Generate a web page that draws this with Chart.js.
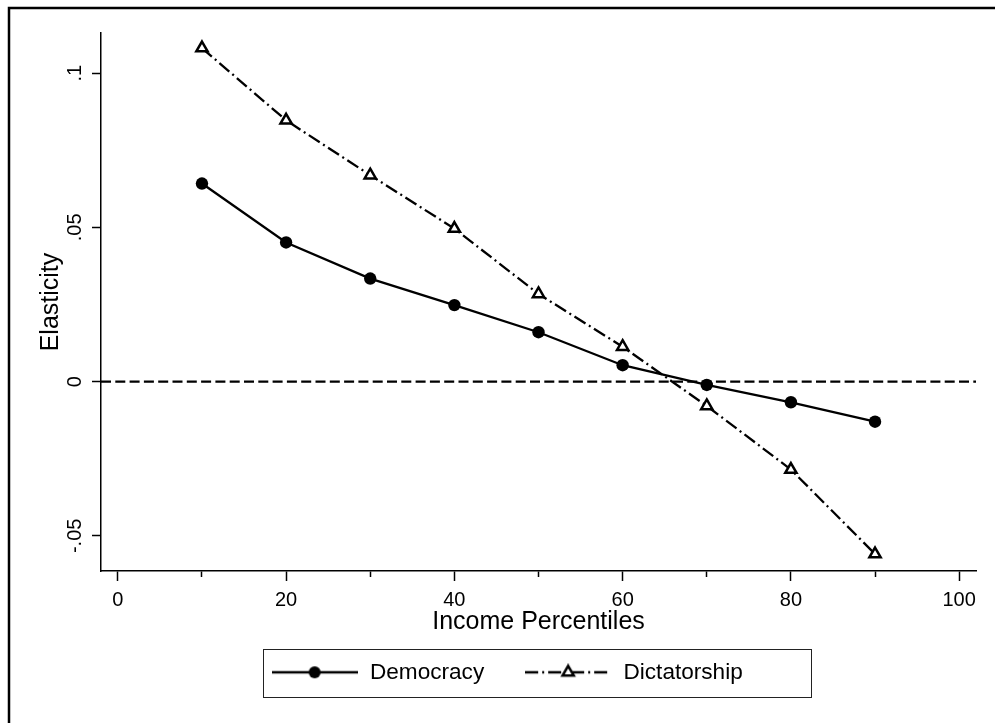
<!DOCTYPE html>
<html>
<head>
<meta charset="utf-8">
<title>Elasticity by income percentile</title>
<script src="https://cdn.jsdelivr.net/npm/chart.js@4.4.1/dist/chart.umd.min.js"></script>
<style>
  html, body { margin: 0; padding: 0; background: #fff; }
  #chart { display: block; }
</style>
</head>
<body>
<canvas id="chart" width="995" height="723"></canvas>
<script>
// data
const percentiles = [10, 20, 30, 40, 50, 60, 70, 80, 90];
const democracy = [0.0642, 0.0451, 0.0334, 0.0248, 0.0160, 0.0053, -0.0011, -0.0067, -0.0130];
const dictatorship = [0.1081, 0.0847, 0.0669, 0.0496, 0.0284, 0.0113, -0.0079, -0.0285, -0.0559];
const seriesNames = ['Democracy', 'Dictatorship'];

// axes
const xRange = [-2, 102];
const yRange = [-0.0614, 0.113];
const xMajorTicks = [0, 20, 40, 60, 80, 100];
const xMinorTicks = [10, 30, 50, 70, 90];
const yTickValues = [-0.05, 0, 0.05, 0.1];
const yTickLabels = ['-.05', '0', '.05', '.1'];
const refLineY = 0;

const FONT = '"Liberation Sans", Arial, Helvetica, sans-serif';
const DASH_DOT = [13, 4, 2, 4];
const LINE_W = 2.3;

// small canvases used as legend samples (line + marker)
function makeSample(kind) {
  const c = document.createElement('canvas');
  c.width = 86;
  c.height = 18;
  const g = c.getContext('2d');
  const cy = c.height / 2;
  g.strokeStyle = '#000';
  g.lineWidth = LINE_W;
  if (kind === 'dict') g.setLineDash(DASH_DOT);
  g.beginPath();
  g.moveTo(0, cy);
  g.lineTo(c.width, cy);
  g.stroke();
  g.setLineDash([]);
  const cx = c.width / 2;
  if (kind === 'dem') {
    g.fillStyle = '#000';
    g.beginPath();
    g.arc(cx, cy, 6, 0, Math.PI * 2);
    g.fill();
  } else {
    const r = 6.5;
    g.fillStyle = '#fff';
    g.lineWidth = 2.5;
    g.beginPath();
    for (let k = 0; k < 3; k++) {
      const a = k * 2 * Math.PI / 3;
      const px = cx + Math.sin(a) * r;
      const py = cy - Math.cos(a) * r;
      if (k === 0) g.moveTo(px, py); else g.lineTo(px, py);
    }
    g.closePath();
    g.fill();
    g.stroke();
  }
  return c;
}
const samples = [makeSample('dem'), makeSample('dict')];

// outer frame (only top and left edges are inside the picture)
const framePlugin = {
  id: 'frame',
  beforeDraw(chart) {
    const ctx = chart.ctx;
    ctx.save();
    ctx.fillStyle = '#fff';
    ctx.fillRect(0, 0, chart.width, chart.height);
    ctx.strokeStyle = '#000';
    ctx.lineWidth = 2.5;
    ctx.beginPath();
    ctx.moveTo(9, chart.height + 5);
    ctx.lineTo(9, 8);
    ctx.lineTo(chart.width + 5, 8);
    ctx.stroke();
    ctx.restore();
  }
};

// box around the legend
const legendBoxPlugin = {
  id: 'legendBox',
  afterDraw(chart) {
    const hb = chart.legend && chart.legend.legendHitBoxes;
    if (!hb || hb.length < 2) return;
    const left = hb[0].left - 8;
    const right = hb[1].left + hb[1].width + 68;
    const top = hb[0].top - 12.5;
    const bottom = hb[0].top + hb[0].height + 12.5;
    const ctx = chart.ctx;
    ctx.save();
    ctx.strokeStyle = '#222';
    ctx.lineWidth = 1;
    ctx.strokeRect(Math.round(left) + 0.5, Math.round(top) + 0.5, Math.round(right - left), Math.round(bottom - top));
    ctx.restore();
  }
};

const ctx = document.getElementById('chart').getContext('2d');
new Chart(ctx, {
  type: 'line',
  data: {
    datasets: [
      {
        label: seriesNames[0],
        data: percentiles.map((p, i) => ({ x: p, y: democracy[i] })),
        borderColor: '#000',
        borderWidth: LINE_W,
        pointStyle: 'circle',
        pointRadius: 6.2,
        pointBackgroundColor: '#000',
        pointBorderColor: '#000',
        pointBorderWidth: 0,
        tension: 0,
        order: 1
      },
      {
        label: seriesNames[1],
        data: percentiles.map((p, i) => ({ x: p, y: dictatorship[i] })),
        borderColor: '#000',
        borderWidth: LINE_W,
        borderDash: DASH_DOT,
        pointStyle: 'triangle',
        pointRadius: 6.5,
        pointBackgroundColor: '#fff',
        pointBorderColor: '#000',
        pointBorderWidth: 2.5,
        tension: 0,
        order: 2
      },
      {
        label: 'zero',
        data: [{ x: xRange[0], y: refLineY }, { x: xRange[1], y: refLineY }],
        borderColor: '#000',
        borderWidth: LINE_W,
        borderDash: [10, 4.3],
        pointRadius: 0,
        tension: 0,
        order: 3
      }
    ]
  },
  options: {
    responsive: false,
    animation: false,
    devicePixelRatio: 1,
    layout: { padding: { left: 18.4, right: 0, top: 33, bottom: 29.4 } },
    plugins: {
      tooltip: { enabled: false },
      title: { display: false },
      legend: {
        position: 'bottom',
        align: 'center',
        labels: {
          usePointStyle: true,
          pointStyleWidth: 88,
          padding: 40,
          color: '#000',
          font: { family: FONT, size: 22.6 },
          generateLabels(chart) {
            return Chart.defaults.plugins.legend.labels.generateLabels(chart)
              .filter(l => l.datasetIndex < seriesNames.length)
              .map(l => Object.assign(l, { pointStyle: samples[l.datasetIndex] }));
          }
        }
      }
    },
    scales: {
      x: {
        type: 'linear',
        position: 'bottom',
        min: xRange[0],
        max: xRange[1],
        afterBuildTicks(scale) {
          scale.ticks = xMajorTicks.concat(xMinorTicks).sort((a, b) => a - b).map(v => ({ value: v }));
        },
        afterFit(scale) { scale.height = 50; },
        border: { display: true, color: '#000', width: 1.5 },
        grid: {
          drawOnChartArea: false,
          drawTicks: true,
          tickLength: 10,
          tickColor: '#000',
          tickWidth: 1.5,
          tickBorderDash: c => (c.tick && xMinorTicks.includes(c.tick.value)) ? [5.5, 30] : []
        },
        ticks: {
          autoSkip: false,
          maxRotation: 0,
          padding: 7,
          color: '#000',
          font: { family: FONT, size: 20 },
          callback: v => {
            const i = xMajorTicks.indexOf(v);
            return i >= 0 ? String(xMajorTicks[i]) : '';
          }
        },
        title: {
          display: true,
          text: 'Income Percentiles',
          color: '#000',
          font: { family: FONT, size: 25 },
          padding: { top: 0, bottom: -16 }
        }
      },
      y: {
        type: 'linear',
        position: 'left',
        min: yRange[0],
        max: yRange[1],
        afterBuildTicks(scale) {
          scale.ticks = yTickValues.map(v => ({ value: v }));
        },
        afterFit(scale) { scale.width = 82.6; },
        border: { display: true, color: '#000', width: 1.5 },
        grid: {
          drawOnChartArea: false,
          drawTicks: true,
          tickLength: 9,
          tickColor: '#000',
          tickWidth: 1.5
        },
        ticks: {
          autoSkip: false,
          minRotation: 90,
          maxRotation: 90,
          crossAlign: 'center',
          padding: -1,
          color: '#000',
          font: { family: FONT, size: 20 },
          callback: v => {
            const i = yTickValues.findIndex(t => Math.abs(t - v) < 1e-9);
            return i >= 0 ? yTickLabels[i] : '';
          }
        },
        title: {
          display: true,
          text: 'Elasticity',
          color: '#000',
          font: { family: FONT, size: 25 },
          padding: { top: 17.6, bottom: 0 }
        }
      },
      // empty right-hand axis, only reserves the margin right of the plot
      yRight: {
        type: 'linear',
        position: 'right',
        afterFit(scale) { scale.width = 19; },
        border: { display: false },
        grid: { display: false, drawTicks: false },
        ticks: { display: false }
      }
    }
  },
  plugins: [framePlugin, legendBoxPlugin]
});
</script>
</body>
</html>
